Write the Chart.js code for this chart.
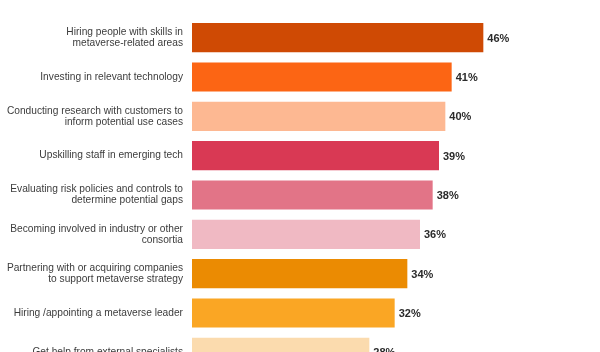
<!DOCTYPE html>
<html>
<head>
<meta charset="utf-8">
<script src="https://cdn.jsdelivr.net/npm/chart.js@4.4.0/dist/chart.umd.min.js"></script>
<style>
  html, body { margin: 0; padding: 0; background: #fff; overflow: hidden; }
</style>
</head>
<body>
<canvas id="actionsChart" width="600" height="392"></canvas>
<script>
// Actions being taken for the metaverse (% of respondents)
const actionLabels = [
    ['Hiring people with skills in', 'metaverse-related areas'],
    'Investing in relevant technology',
    ['Conducting research with customers to', 'inform potential use cases'],
    'Upskilling staff in emerging tech',
    ['Evaluating risk policies and controls to', 'determine potential gaps'],
    ['Becoming involved in industry or other', 'consortia'],
    ['Partnering with or acquiring companies', 'to support metaverse strategy'],
    'Hiring /appointing a metaverse leader',
    'Get help from external specialists'
];

const actionValues = [46, 41, 40, 39, 38, 36, 34, 32, 28];

const barColors = [
    '#CF4A04', '#FC6514', '#FDB892', '#D93954', '#E27487',
    '#F0B9C3', '#EB8B02', '#FAA624', '#FBDBAE'
];

const valueLabelsPlugin = {
    id: 'valueLabels',
    afterDatasetsDraw(chart) {
        const { ctx } = chart;
        const meta = chart.getDatasetMeta(0);
        ctx.save();
        ctx.font = 'bold 11px "Liberation Sans", Arial, sans-serif';
        ctx.fillStyle = '#2b2b2b';
        ctx.textAlign = 'left';
        ctx.textBaseline = 'middle';
        meta.data.forEach((bar, i) => {
            ctx.fillText(actionValues[i] + '%', bar.x + 4, bar.y + 1);
        });
        ctx.restore();
    }
};

new Chart(document.getElementById('actionsChart'), {
    type: 'bar',
    data: {
        labels: actionLabels,
        datasets: [{
            data: actionValues,
            backgroundColor: barColors,
            borderWidth: 0,
            categoryPercentage: 1,
            barPercentage: 0.74
        }]
    },
    options: {
        indexAxis: 'y',
        responsive: false,
        animation: false,
        layout: { padding: { top: 18, bottom: 7, left: 0, right: 28 } },
        scales: {
            x: {
                min: 0,
                max: 60,
                display: false,
                grid: { display: false }
            },
            y: {
                grid: { display: false, drawTicks: false },
                border: { display: false },
                afterFit(scale) { scale.width = 192; },
                ticks: {
                    padding: 9,
                    color: '#3c3c3c',
                    font: { family: '"Liberation Sans", Arial, sans-serif', size: 10.2, lineHeight: 1.08 }
                }
            }
        },
        plugins: {
            legend: { display: false },
            tooltip: { enabled: false }
        }
    },
    plugins: [valueLabelsPlugin]
});
</script>
</body>
</html>
